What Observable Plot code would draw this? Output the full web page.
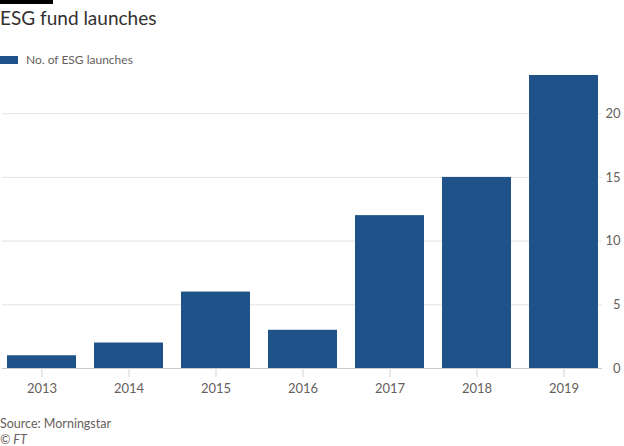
<!DOCTYPE html>
<html>
<head>
<meta charset="utf-8">
<script src="https://cdn.jsdelivr.net/npm/d3@7"></script>
<script src="https://cdn.jsdelivr.net/npm/@observablehq/plot@0.6"></script>
<style>
  html, body { margin: 0; padding: 0; background: #ffffff; }
  body { width: 624px; height: 446px; position: relative; overflow: hidden; font-family: Lato, "Noto Sans", sans-serif; }
  #topbar { position: absolute; left: 0; top: 0; width: 53px; height: 4px; background: #000; }
  #title { position: absolute; left: 0; top: 5px; font-size: 19px; color: #33302e; line-height: 26px; }
  #legend { position: absolute; left: 0; top: 52px; font-size: 12px; color: #66605c; line-height: 16px; display: flex; align-items: center; }
  #legend .sw { width: 18px; height: 8px; background: #1e5288; margin-right: 8px; }
  #chart { position: absolute; left: 0; top: 66px; }
  #source { position: absolute; left: 0; top: 416px; font-size: 12.5px; color: #66605c; line-height: 16px; }
  #ft { position: absolute; left: 0; top: 432px; font-size: 12.5px; color: #66605c; font-style: italic; line-height: 16px; }
</style>
</head>
<body>
<div id="topbar"></div>
<div id="title">ESG fund launches</div>
<div id="legend"><span class="sw"></span><span>No. of ESG launches</span></div>
<div id="chart"></div>
<div id="source">Source: Morningstar</div>
<div id="ft">© FT</div>
<script>
const years = ["2013", "2014", "2015", "2016", "2017", "2018", "2019"];
const launches = [1, 2, 6, 3, 12, 15, 23];
const yTicks = [0, 5, 10, 15, 20];
const seriesName = "No. of ESG launches";

const data = years.map((y, i) => ({year: y, value: launches[i]}));

const chart = Plot.plot({
  width: 624,
  height: 334,
  marginLeft: 2,
  marginRight: 22,
  marginTop: 9,
  marginBottom: 32,
  style: {fontFamily: "Lato, 'Noto Sans', sans-serif", fontSize: "13px", color: "#66605c", background: "transparent"},
  x: {domain: years, paddingInner: 0.21, paddingOuter: 0.04, label: null},
  y: {domain: [0, 23], label: null, axis: null},
  marks: [
    Plot.gridY(yTicks, {stroke: "#e6e2df", strokeOpacity: 1}),
    Plot.barY(data, {x: "year", y: "value", fill: "#1e5288"}),
    Plot.ruleY([0], {stroke: "#cfcac6"}),
    Plot.text(yTicks, {y: d => d, frameAnchor: "right", dx: 18, textAnchor: "end", fill: "#66605c", fontSize: 13, text: d => String(d)}),
    Plot.axisX({anchor: "bottom", tickSize: 9, tickPadding: 6, stroke: "#d9d4d0", fill: "#66605c", fontSize: 13, label: null})
  ]
});
document.getElementById("chart").appendChild(chart);
</script>
</body>
</html>
